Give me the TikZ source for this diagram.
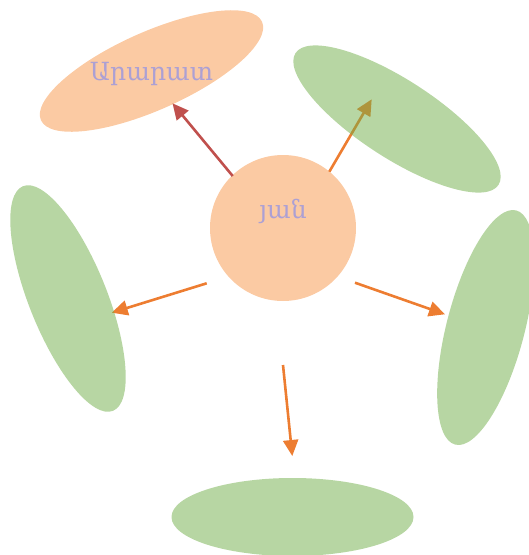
\documentclass[tikz,border=0pt]{standalone}
\usepackage{fontspec}
\newfontfamily\armfont{DejaVu Serif}
\usetikzlibrary{shapes.geometric,arrows.meta}
\definecolor{peach}{RGB}{251,202,163}
\definecolor{leaf}{RGB}{112,173,71}
\definecolor{arrorange}{RGB}{237,125,49}
\definecolor{arrred}{RGB}{192,80,77}
\definecolor{lav}{RGB}{172,160,212}
\tikzset{
  petal/.style={ellipse, minimum width=242pt, minimum height=78pt, inner sep=0pt, draw=none},
  greenpetal/.style={petal, fill=leaf, fill opacity=0.5},
  peachpetal/.style={petal, fill=peach},
  hub/.style={circle, minimum size=146pt, inner sep=0pt, fill=peach, draw=none},
  lbl/.style={text=lav, font=\armfont\fontsize{25}{30}\selectfont, inner sep=0pt},
  conn/.style={line width=2.6pt, -{Triangle[length=16pt,width=15pt]}},
}
\begin{document}
\begin{tikzpicture}[x=1pt,y=-1pt]
\useasboundingbox (0,0) rectangle (529,555);
% orange/peach shapes
\node[hub] (hub) at (283,228) {};
\node[peachpetal, rotate=24] (p1) at (151.5,71) {};
\node[lbl] (t1) at (151.5,74) {Արարատ};
\node[lbl] (t0) at (283,211) {յան};
% connector end points
\coordinate (s1) at (232.7,176);
\coordinate (e1) at (172.5,103.3);
\coordinate (s2) at (329.3,171.7);
\coordinate (e2) at (371.7,99.3);
\coordinate (s3) at (355,282.7);
\coordinate (e3) at (445,314.3);
\coordinate (s4) at (283,365);
\coordinate (e4) at (292.3,456);
\coordinate (s5) at (206.7,283.3);
\coordinate (e5) at (111.7,312.7);
% connectors
\draw[conn, draw=arrred, fill=arrred] (s1) -- (e1);
\draw[conn, draw=arrorange, fill=arrorange] (s2) -- (e2);
\draw[conn, draw=arrorange, fill=arrorange] (s3) -- (e3);
\draw[conn, draw=arrorange, fill=arrorange] (s4) -- (e4);
\draw[conn, draw=arrorange, fill=arrorange] (s5) -- (e5);
% green petals
\node[greenpetal, rotate=-33] (p2) at (397,119) {};
\node[greenpetal, rotate=75.4] (p3) at (485.7,327.5) {};
\node[greenpetal] (p4) at (292.5,517) {};
\node[greenpetal, rotate=-68.2] (p5) at (68,298.5) {};
\end{tikzpicture}
\end{document}
